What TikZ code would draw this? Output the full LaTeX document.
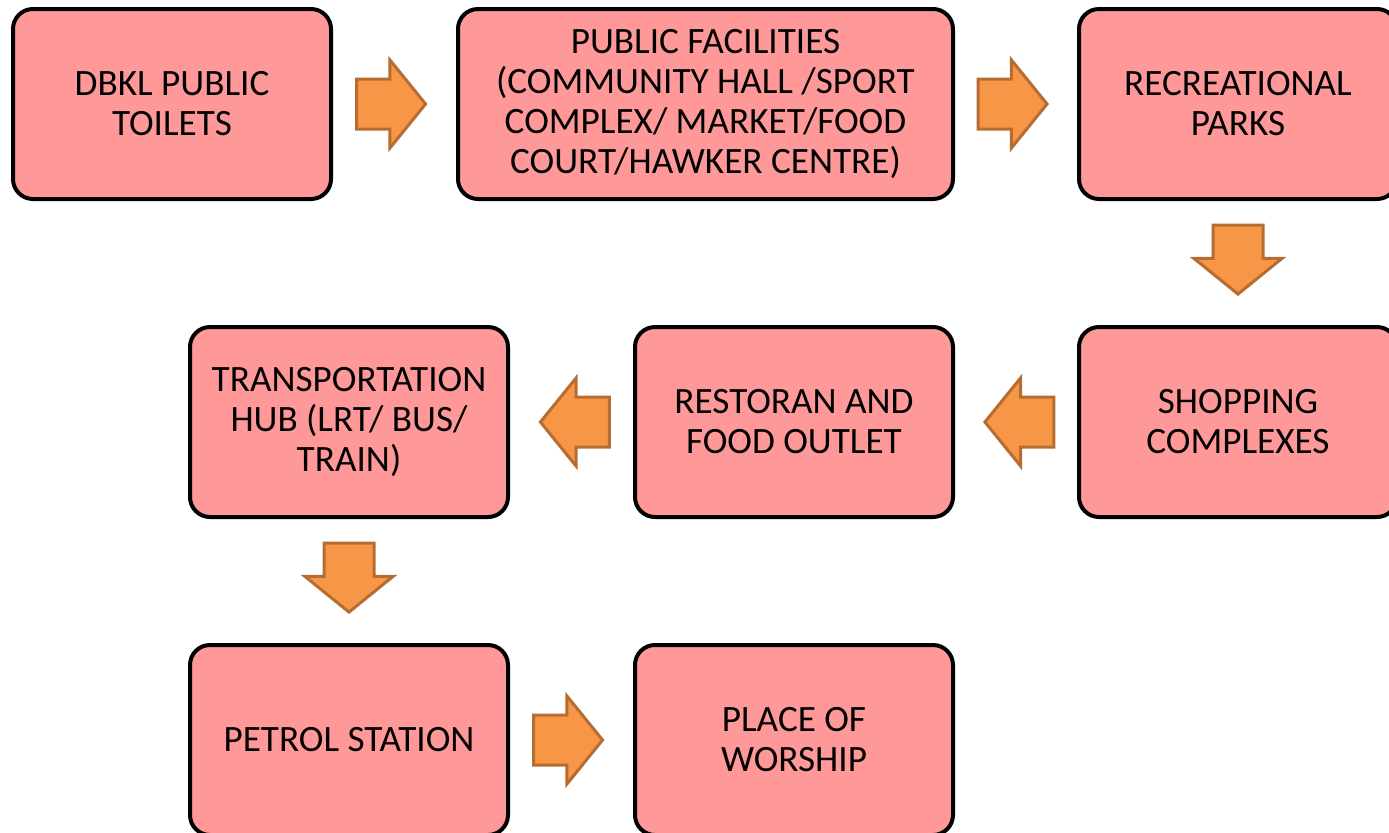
\documentclass[tikz,border=0pt]{standalone}
\usepackage{fontspec}
\setmainfont{Carlito}
\usetikzlibrary{positioning,shapes.arrows,calc}
\definecolor{boxpink}{HTML}{FF9999}
\definecolor{arroworange}{HTML}{F79646}
\definecolor{arrowedge}{HTML}{B66D31}

\begin{document}
\begin{tikzpicture}[
    box/.style={rectangle,rounded corners=10pt,draw,line width=2pt,fill=boxpink,
        minimum width=159pt,minimum height=95pt,align=center,
        font=\fontsize{18.6}{20}\selectfont},
    flow/.style={single arrow,anchor=tip,draw=arrowedge,fill=arroworange,line width=1.5pt,
        minimum height=34.5pt,inner xsep=0pt,inner ysep=11.75pt,
        single arrow head extend=9.5pt,single arrow tip angle=102},
    node distance=61.5pt]
    \useasboundingbox (0,0) rectangle (694.5pt,-416pt);
    \node[box] (toilets) at (86pt,-52pt) {DBKL PUBLIC\\TOILETS};
    \node[box,minimum width=247.5pt,right=of toilets] (facilities) {PUBLIC FACILITIES\\(COMMUNITY HALL /SPORT\\COMPLEX/ MARKET/FOOD\\COURT/HAWKER CENTRE)};
    \node[box,right=61pt of facilities] (parks) {RECREATIONAL\\PARKS};
    \node[box,below=62pt of parks] (shopping) {SHOPPING\\COMPLEXES};
    \node[box,left=61pt of shopping] (restoran) {RESTORAN AND\\FOOD OUTLET};
    \node[box,left=of restoran] (transport) {TRANSPORTATION\\HUB (LRT/ BUS/\\TRAIN)};
    \node[box,below=62pt of transport] (petrol) {PETROL STATION};
    \node[box,right=of petrol] (worship) {PLACE OF\\WORSHIP};
    % block arrows between the boxes
    \node[flow] (a1) at ($(toilets.east)!.5!(facilities.west)+(16.5pt,0)$) {};
    \node[flow] (a2) at ($(facilities.east)!.5!(parks.west)+(16.5pt,0)$) {};
    \node[flow,rotate=-90] (a3) at ($(parks.south)!.5!(shopping.north)+(0,-16.5pt)$) {};
    \node[flow,rotate=180] (a4) at ($(shopping.west)!.5!(restoran.east)+(-16.5pt,0)$) {};
    \node[flow,rotate=180] (a5) at ($(restoran.west)!.5!(transport.east)+(-16.5pt,0)$) {};
    \node[flow,rotate=-90] (a6) at ($(transport.south)!.5!(petrol.north)+(0,-16.5pt)$) {};
    \node[flow] (a7) at ($(petrol.east)!.5!(worship.west)+(16.5pt,0)$) {};
\end{tikzpicture}
\end{document}
